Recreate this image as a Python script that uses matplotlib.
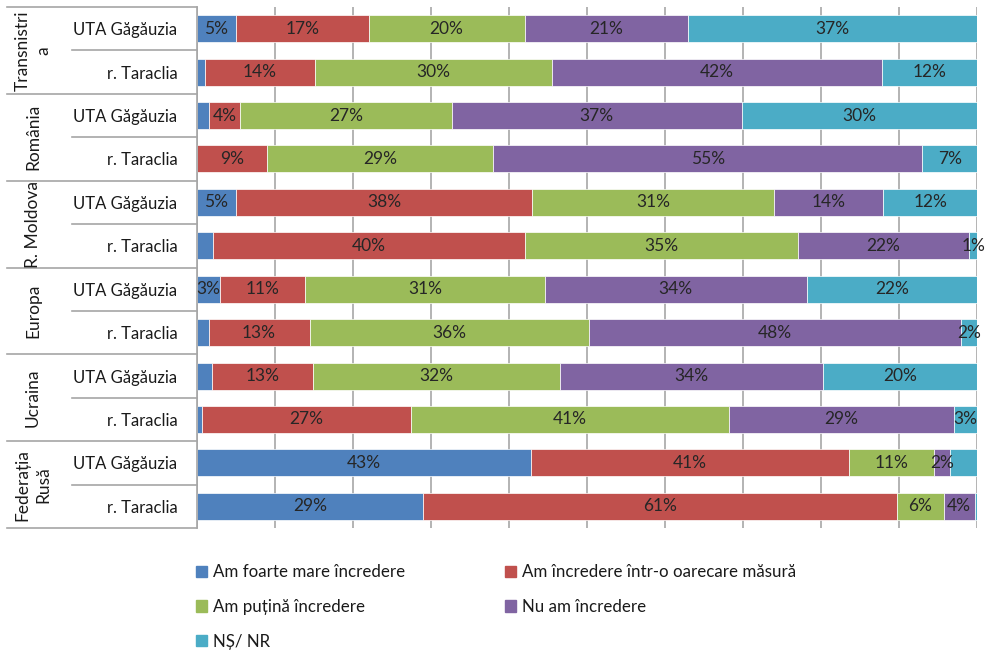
import matplotlib
matplotlib.use("Agg")
import matplotlib.pyplot as plt
import numpy as np
from matplotlib.patches import Patch
from matplotlib.transforms import blended_transform_factory

plt.rcParams["font.family"] = ["Lato", "DejaVu Sans"]

# --- Data (rows top to bottom) ---------------------------------------------
groups = ["Transnistri\na", "România", "R. Moldova", "Europa", "Ucraina", "Federația\nRusă"]
subgroups = ["UTA Găgăuzia", "r. Taraclia"] * 6

series_names = [
    "Am foarte mare încredere",
    "Am încredere într-o oarecare măsură",
    "Am puțină încredere",
    "Nu am încredere",
    "NȘ/ NR",
]
colors = ["#4F81BD", "#C0504D", "#9BBB59", "#8064A2", "#4BACC6"]

foarte_mare = [5, 1, 1.5, 0, 5, 2, 3, 1.5, 2, 0.6, 43, 29]
oarecare = [17, 14, 4, 9, 38, 40, 11, 13, 13, 27, 41, 61]
putina = [20, 30, 27, 29, 31, 35, 31, 36, 32, 41, 11, 6]
nu_am = [21, 42, 37, 55, 14, 22, 34, 48, 34, 29, 2, 4]
ns_nr = [37, 12, 30, 7, 12, 1, 22, 2, 20, 3, 3.5, 0.3]

# (row, series) segments that carry no data label in the original
no_label = {(1, 0), (2, 0), (3, 0), (5, 0), (7, 0), (8, 0), (9, 0), (10, 4), (11, 4)}

data = np.array([foarte_mare, oarecare, putina, nu_am, ns_nr], dtype=float)
share = data / data.sum(axis=0) * 100  # 100% stacked

# --- Figure ----------------------------------------------------------------
fig = plt.figure(figsize=(9.89, 6.5), dpi=100)
ax = fig.add_axes([197 / 989, 1 - 528 / 650, 780 / 989, 521 / 650])

y = np.arange(len(subgroups))
left = np.zeros(len(subgroups))
for i, (name, c) in enumerate(zip(series_names, colors)):
    ax.barh(y, share[i], left=left, height=0.62, color=c,
            edgecolor="white", linewidth=0.5, zorder=2)
    for r in range(len(y)):
        if (r, i) in no_label or data[i, r] == 0:
            continue
        ax.text(left[r] + share[i, r] / 2, y[r], f"{round(data[i, r])}%",
                ha="center", va="center", fontsize=12.5, color="#262626", zorder=3)
    left += share[i]

ax.set_xlim(0, 100)
ax.set_ylim(len(y) - 0.5, -0.5)
ax.set_xticks(np.arange(0, 101, 10))
ax.xaxis.grid(True, color="#b3b3b3", linewidth=1.4)
ax.set_axisbelow(True)
ax.tick_params(axis="x", length=0, labelbottom=False)
ax.set_yticks(y)
ax.set_yticklabels(subgroups, fontsize=12, color="#1a1a1a")
ax.tick_params(axis="y", length=0, pad=14)
for s in ["top", "right", "bottom"]:
    ax.spines[s].set_visible(False)
ax.spines["left"].set_color("#a6a6a6")
ax.spines["left"].set_linewidth(1.2)

# table lines and group labels on the left
tr = blended_transform_factory(ax.transAxes, ax.transData)
x_group = (7 - 197) / 780
x_sub = (72 - 197) / 780
for b in np.arange(-0.5, len(y), 1.0):
    x0 = x_group if int(b + 0.5) % 2 == 0 else x_sub
    ax.plot([x0, 0], [b, b], color="#a6a6a6", linewidth=1.2,
            transform=tr, clip_on=False)
for g, name in enumerate(groups):
    ax.text((33 - 197) / 780, 2 * g + 0.5, name, rotation=90, ha="center",
            va="center", multialignment="center", fontsize=12.5,
            color="#1a1a1a", transform=tr, linespacing=1.4)

# legend (row-wise order: 2 columns)
handles = [Patch(color=c, label=n) for c, n in zip(colors, series_names)]
order = [0, 2, 4, 1, 3]
fig.legend(handles=[handles[k] for k in order], loc="upper left",
           bbox_to_anchor=(181 / 989, 1 - 549 / 650), ncol=2, frameon=False,
           fontsize=12.2, handlelength=0.65, handleheight=0.65, handletextpad=0.35,
           labelspacing=1.1, columnspacing=5.9, labelcolor="#1a1a1a")

fig.savefig("out.png", dpi=100)
